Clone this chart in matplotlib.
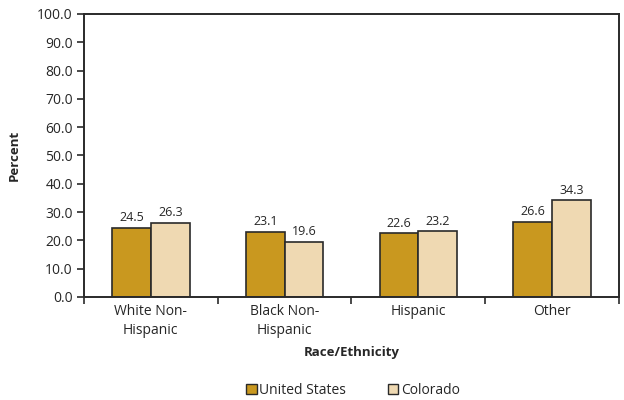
import matplotlib
matplotlib.use("Agg")
import matplotlib.pyplot as plt
import numpy as np
from matplotlib.patches import Patch

categories = ["White Non-\nHispanic", "Black Non-\nHispanic", "Hispanic", "Other"]
us_values = [24.5, 23.1, 22.6, 26.6]
co_values = [26.3, 19.6, 23.2, 34.3]
series_names = ["United States", "Colorado"]
y_ticks = [0, 10, 20, 30, 40, 50, 60, 70, 80, 90, 100]

plt.rcParams["font.family"] = ["Open Sans", "DejaVu Sans"]
text_color = "#262626"
edge = "#2a2a2a"
gold = "#C9981F"
beige = "#EFD9B2"

fig = plt.figure(figsize=(6.24, 4.0), dpi=100)
ax = fig.add_axes([0.1346, 0.2575, 0.8574, 0.7075])

x = np.arange(len(categories))
w = 0.29
b1 = ax.bar(x - w / 2, us_values, w, color=gold, edgecolor=edge, linewidth=1.2)
b2 = ax.bar(x + w / 2, co_values, w, color=beige, edgecolor=edge, linewidth=1.2)

for bars, vals in ((b1, us_values), (b2, co_values)):
    for r, v in zip(bars, vals):
        ax.text(r.get_x() + r.get_width() / 2, v + 1.2, f"{v:.1f}",
                ha="center", va="bottom", fontsize=9, color=text_color)

ax.set_xlim(-0.5, len(categories) - 0.5)
ax.set_ylim(0, 100)
ax.set_yticks(y_ticks)
ax.set_yticklabels([f"{t:.1f}" for t in y_ticks], fontsize=10, color=text_color)

# category labels centred, tick marks on category boundaries
ax.set_xticks(x)
ax.set_xticklabels(categories, fontsize=10, color=text_color, linespacing=1.35)
ax.tick_params(axis="x", length=0, pad=5)
ax.set_xticks(np.arange(len(categories) + 1) - 0.5, minor=True)
ax.tick_params(axis="x", which="minor", length=5, width=1.2, color=edge, direction="out")
ax.tick_params(axis="y", length=5, width=1.2, color=edge, direction="out", pad=3)

for s in ax.spines.values():
    s.set_color(edge)
    s.set_linewidth(1.4)

ax.set_xlabel("Race/Ethnicity", fontsize=9.5, fontweight="bold", color=text_color, labelpad=6)
ax.set_ylabel("Percent", fontsize=9.5, fontweight="bold", color=text_color, labelpad=12)

handles = [Patch(facecolor=gold, edgecolor=edge, linewidth=1.0),
           Patch(facecolor=beige, edgecolor=edge, linewidth=1.0)]
fig.legend(handles, series_names, loc="center", bbox_to_anchor=(0.566, 0.025),
           ncol=2, frameon=False, fontsize=10, handlelength=0.75, handleheight=0.75,
           handletextpad=0.2, columnspacing=3.0, labelcolor=text_color)

fig.savefig("out.png", dpi=100)
